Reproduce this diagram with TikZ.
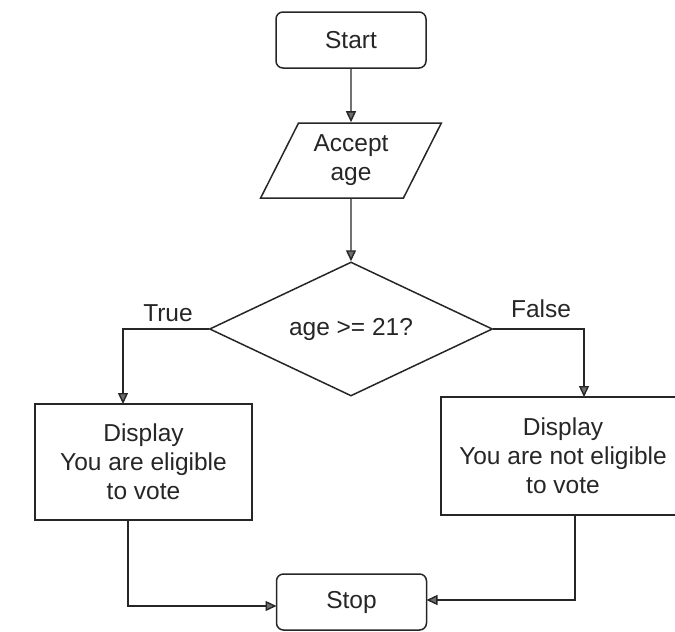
\documentclass[tikz,border=0pt]{standalone}
\usepackage{fontspec}
\setmainfont{Liberation Sans}
\usetikzlibrary{shapes.geometric,arrows.meta,calc}
\definecolor{ink}{HTML}{262626}
\definecolor{tipgray}{HTML}{6E6E6E}
\begin{document}
\begin{tikzpicture}[x=1pt,y=-1pt,
  font=\fontsize{24.5}{29}\selectfont,
  every node/.style={text=ink},
  term/.style={draw=ink, line width=1.5pt, rounded corners=7pt, minimum width=150pt, minimum height=56pt, inner sep=0pt},
  io/.style={trapezium, draw=ink, line width=1.5pt, trapezium left angle=62, trapezium right angle=118, trapezium stretches=true, minimum width=181pt, minimum height=75pt, inner sep=0pt, align=center},
  decision/.style={diamond, aspect=2.1, draw=ink, line width=1.5pt, minimum width=283pt, minimum height=134pt, inner sep=0pt},
  proc/.style={draw=ink, line width=1.5pt, inner sep=0pt, align=center},
  conn/.style={draw=ink, line width=1.4pt, -{Triangle[length=11pt,width=10pt,fill=tipgray]}},
  lbl/.style={inner sep=0pt}
]
\useasboundingbox (0,0) rectangle (675,632);
\clip (0,0) rectangle (675,632);

\node[term] (start) at (351,40) {Start};
\node[io] (acc) at (351,160.5) {Accept\\age};
\node[decision] (dec) at (351,329) {age >= 21?};
\node[proc, minimum width=217pt, minimum height=116pt] (yes) at (143.5,462) {Display\\You are eligible\\to vote};
\node[proc, minimum width=244pt, minimum height=118pt] (no) at (563,456) {Display\\You are not eligible\\to vote};
\node[term] (stop) at (351.5,602) {Stop};

\coordinate (tdrop) at (123,404);
\coordinate (fdrop) at (584,397);
\coordinate (yout) at (128,520);
\coordinate (nout) at (575,515);
\coordinate (sin1) at (276.5,606);
\coordinate (sin2) at (426.5,600);

\draw[conn] (start.south) -- (acc.north);
\draw[conn] (acc.south) -- (dec.north);
\draw[conn] (dec.west) -| (tdrop);
\draw[conn] (dec.east) -| (fdrop);
\draw[conn] (yout) |- (sin1);
\draw[conn] (nout) |- (sin2);

\node[lbl] (ltrue) at (168,313) {True};
\node[lbl] (lfalse) at (541,309) {False};
\end{tikzpicture}
\end{document}
